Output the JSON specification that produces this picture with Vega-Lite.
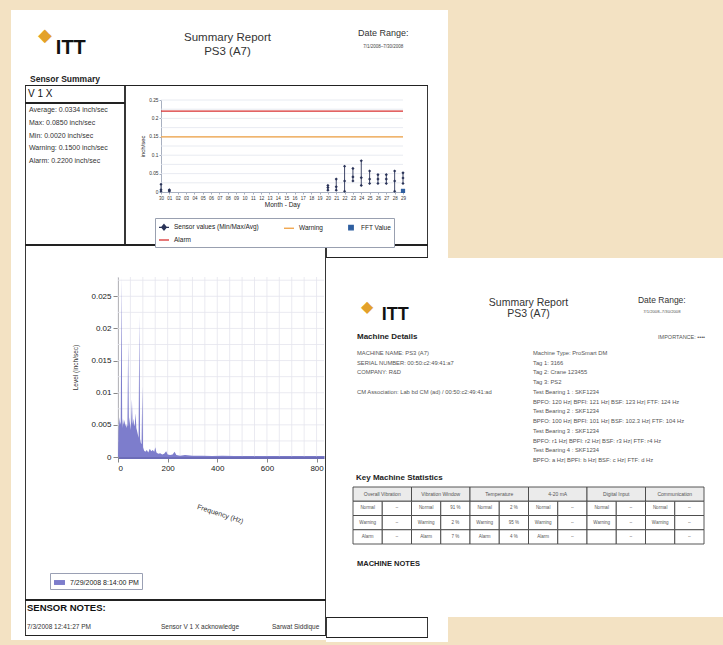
{
"$schema": "https://vega.github.io/schema/vega-lite/v6.json",
"background": "white",
"padding": 0,
"config": {"view": {"stroke": null}, "font": "Liberation Sans", "concat": {"spacing": 0}, "text": {"color": "#333"}},
"spacing": 0,
"vconcat": [
  {"width": 723, "height": 10, "data": {"values": []}, "mark": "point", "view": {"fill": "#f3e2c3"}},
  {"spacing": 0, "hconcat": [
    {"width": 11, "height": 235, "data": {"values": []}, "mark": "point", "view": {"fill": "#f3e2c3"}},
    {"spacing": 0, "vconcat": [
      {"width": 437, "height": 63,
       "encoding": {
         "x": {"field": "s", "type": "nominal", "scale": {"type": "point", "domain": ["logo", "title", "date"], "padding": 0.5}, "axis": null},
         "y": {"field": "l", "type": "nominal", "scale": {"type": "point", "domain": ["1", "2"], "range": [28, 42], "padding": 0}, "axis": null},
         "text": {"field": "t"}},
       "layer": [
         {"data": {"values": [{"s": "title", "l": "1", "t": "Summary Report"}, {"s": "title", "l": "2", "t": "PS3 (A7)"}]},
          "mark": {"type": "text", "fontSize": 11.5, "color": "#333", "dx": -2}},
         {"data": {"values": [{"s": "date", "l": "1", "t": "Date Range:"}]},
          "mark": {"type": "text", "fontSize": 9, "color": "#333", "dx": 8, "dy": -5}},
         {"data": {"values": [{"s": "date", "l": "2", "t": "7/1/2008–7/30/2008"}]},
          "mark": {"type": "text", "fontSize": 4.5, "color": "#444", "dx": 8, "dy": -5}},
         {"data": {"values": [{"s": "logo", "l": "2", "t": "ITT"}]},
          "mark": {"type": "text", "fontSize": 20, "fontWeight": "bold", "color": "#111", "dx": -13, "dy": -4}},
         {"data": {"values": [{"s": "logo", "l": "1", "t": "◆"}]},
          "mark": {"type": "text", "fontSize": 18, "color": "#e3a12a", "dx": -39, "dy": -2}}
       ]},
      {"width": 437, "height": 12,
       "data": {"values": [{"t": "Sensor Summary"}]},
       "mark": {"type": "text", "align": "left", "fontSize": 8.5, "fontWeight": "bold", "color": "#222"},
       "encoding": {"x": {"field": "t", "type": "nominal", "scale": {"type": "point", "range": [19, 19], "padding": 0}, "axis": null}, "text": {"field": "t"}}},
      {"spacing": 0, "hconcat": [
        {"width": 14, "height": 160, "data": {"values": []}, "mark": "point"},
        {"spacing": 0, "vconcat": [
          {"width": 100, "height": 18,
           "resolve": {"scale": {"x": "independent", "y": "independent"}},
           "layer": [
             {"data": {"values": [{"t": "V 1 X"}]},
              "mark": {"type": "text", "align": "left", "fontSize": 10, "color": "#111"},
              "encoding": {"x": {"field": "t", "type": "nominal", "scale": {"type": "point", "range": [3, 3], "padding": 0}, "axis": null}, "text": {"field": "t"}}},
             {"data": {"values": [{}]}, "mark": {"type": "rect", "fill": "transparent", "stroke": "#222", "strokeWidth": 1.8, "clip": true}}
           ]},
          {"width": 100, "height": 142,
           "resolve": {"scale": {"x": "independent", "y": "independent"}},
           "layer": [
             {"data": {"values": [{"t": "Average: 0.0334 inch/sec"}, {"t": "Max: 0.0850 inch/sec"}, {"t": "Min: 0.0020 inch/sec"}, {"t": "Warning: 0.1500 inch/sec"}, {"t": "Alarm: 0.2200 inch/sec"}]},
              "mark": {"type": "text", "align": "left", "fontSize": 7, "color": "#333"},
              "encoding": {
                "x": {"field": "t", "type": "nominal", "scale": {"type": "point", "range": [4, 4], "padding": 0}, "axis": null},
                "y": {"field": "t", "type": "nominal", "sort": null, "scale": {"type": "point", "range": [7, 58], "padding": 0}, "axis": null},
                "text": {"field": "t"}}},
             {"data": {"values": [{}]}, "mark": {"type": "rect", "fill": "transparent", "stroke": "#222", "strokeWidth": 1.8, "clip": true}}
           ]}
        ]},
        {"width": 303, "height": 160,
         "resolve": {"scale": {"x": "independent", "y": "independent"}},
         "layer": [
           {"encoding": {
              "x": {"field": "day", "type": "ordinal",
                    "scale": {"type": "point", "domain": ["30","01","02","03","04","05","06","07","08","09","10","11","12","13","14","15","16","17","18","19","20","21","22","23","24","25","26","27","28","29"], "range": [36, 278], "padding": 0},
                    "axis": {"orient": "bottom", "offset": -53, "grid": false, "labelFontSize": 4.5, "labelAngle": 0, "labelOverlap": false, "title": "Month - Day", "titleFontSize": 6.5, "titleFontWeight": "normal", "titlePadding": 2, "tickSize": 2, "labelPadding": 1, "domainColor": "#a8b0c0", "tickColor": "#a8b0c0", "labelColor": "#333", "titleColor": "#222"}},
              "y": {"field": "v", "type": "quantitative", "title": "inch/sec",
                    "scale": {"domain": [0, 0.25], "range": [107, 15], "nice": false, "zero": false},
                    "axis": {"orient": "left", "offset": -36, "grid": false, "tickCount": 5, "format": "~g", "labelOverlap": false, "labelSeparation": 0, "labelFontSize": 4.8, "titleFontSize": 6, "titleFontWeight": "normal", "titlePadding": 3, "tickSize": 2, "labelPadding": 1, "domainColor": "#a8b0c0", "tickColor": "#a8b0c0", "labelColor": "#333", "titleColor": "#222"}}},
            "layer": [
              {"data": {"values": [{"day":"30"},{"day":"01"},{"day":"02"},{"day":"03"},{"day":"04"},{"day":"05"},{"day":"06"},{"day":"07"},{"day":"08"},{"day":"09"},{"day":"10"},{"day":"11"},{"day":"12"},{"day":"13"},{"day":"14"},{"day":"15"},{"day":"16"},{"day":"17"},{"day":"18"},{"day":"19"},{"day":"20"},{"day":"21"},{"day":"22"},{"day":"23"},{"day":"24"},{"day":"25"},{"day":"26"},{"day":"27"},{"day":"28"},{"day":"29"}]},
               "mark": {"type": "rule", "color": "#e2e6ee", "strokeWidth": 0.8, "clip": true},
               "encoding": {"y": {"datum": 0, "type": "quantitative"}, "y2": {"datum": 0.25}}},
              {"data": {"values": [{"v": 0.025}, {"v": 0.05}, {"v": 0.075}, {"v": 0.1}, {"v": 0.125}, {"v": 0.15}, {"v": 0.175}, {"v": 0.2}, {"v": 0.225}, {"v": 0.25}]},
               "mark": {"type": "rule", "color": "#e2e6ee", "strokeWidth": 0.8, "clip": true},
               "encoding": {"x": {"datum": "30", "type": "ordinal"}, "x2": {"datum": "29"}}},
              {"data": {"values": [
                 {"series": "Alarm", "day": "30", "v": 0.22}, {"series": "Alarm", "day": "29", "v": 0.22},
                 {"series": "Warning", "day": "30", "v": 0.15}, {"series": "Warning", "day": "29", "v": 0.15}]},
               "mark": {"type": "line", "strokeWidth": 1.3},
               "encoding": {
                 "color": {"field": "series", "type": "nominal",
                           "scale": {"domain": ["Sensor values (Min/Max/Avg)", "Warning", "FFT Value", "Alarm"], "range": ["#2a3358", "#f0a040", "#2f5fa0", "#d83030"]},
                           "legend": {"orient": "none", "legendX": 155, "legendY": 218, "direction": "horizontal", "columns": 3, "columnPadding": 22, "rowPadding": 1, "padding": 3, "strokeColor": "#99a0b0", "fillColor": "white", "labelFontSize": 6.5, "labelColor": "#222", "title": null, "symbolSize": 100,
                                      "encode": {"symbols": {"update": {
                                        "shape": {"signal": "datum.value === 'FFT Value' ? 'square' : datum.value === 'Sensor values (Min/Max/Avg)' ? 'M-1,0H1M0,-0.55L0.45,0L0,0.55L-0.45,0Z' : 'stroke'"},
                                        "fill": {"signal": "datum.value === 'Warning' || datum.value === 'Alarm' ? 'transparent' : scale('color', datum.value)"},
                                        "stroke": {"signal": "scale('color', datum.value)"},
                                        "strokeWidth": {"value": 1.3},
                                        "size": {"signal": "datum.value === 'FFT Value' ? 20 : 100"}}}}}}}},
              {"data": {"values": [
                 {"day": "30", "min": 0.002, "avg": 0.006, "max": 0.021},
                 {"day": "01", "min": 0.002, "avg": 0.004, "max": 0.006},
                 {"day": "20", "min": 0.005, "avg": 0.012, "max": 0.018},
                 {"day": "21", "min": 0.005, "avg": 0.014, "max": 0.035},
                 {"day": "22", "min": 0.002, "avg": 0.030, "max": 0.070},
                 {"day": "23", "min": 0.030, "avg": 0.041, "max": 0.064},
                 {"day": "24", "min": 0.018, "avg": 0.039, "max": 0.085},
                 {"day": "25", "min": 0.023, "avg": 0.035, "max": 0.057},
                 {"day": "26", "min": 0.023, "avg": 0.035, "max": 0.047},
                 {"day": "27", "min": 0.023, "avg": 0.035, "max": 0.047},
                 {"day": "28", "min": 0.002, "avg": 0.030, "max": 0.057},
                 {"day": "29", "min": 0.023, "avg": 0.038, "max": 0.052}]},
               "layer": [
                 {"mark": {"type": "rule", "strokeWidth": 0.9},
                  "encoding": {"y": {"field": "min", "type": "quantitative", "title": "inch/sec"}, "y2": {"field": "max"}, "color": {"datum": "Sensor values (Min/Max/Avg)", "type": "nominal"}}},
                 {"transform": [{"fold": ["min", "avg", "max"], "as": ["stat", "value"]}],
                  "mark": {"type": "point", "shape": "diamond", "filled": true, "size": 10, "opacity": 1},
                  "encoding": {"y": {"field": "value", "type": "quantitative", "title": "inch/sec"}, "color": {"datum": "Sensor values (Min/Max/Avg)", "type": "nominal"}}}
               ]},
              {"data": {"values": [{"day": "29", "v": 0.003}]},
               "mark": {"type": "square", "size": 18, "filled": true, "opacity": 1},
               "encoding": {"color": {"datum": "FFT Value", "type": "nominal"}}}
            ]},
           {"data": {"values": [{}]}, "mark": {"type": "rect", "fill": "transparent", "stroke": "#222", "strokeWidth": 1.8, "clip": true}}
         ]},
        {"width": 20, "height": 160, "data": {"values": []}, "mark": "point"}
      ]}
    ]},
    {"width": 275, "height": 235, "data": {"values": []}, "mark": "point", "view": {"fill": "#f3e2c3"}}
  ]},
  {"spacing": 0, "hconcat": [
    {"width": 11, "height": 400, "data": {"values": []}, "mark": "point", "view": {"fill": "#f3e2c3"}},
    {"spacing": 0, "vconcat": [
      {"spacing": 0, "hconcat": [
        {"width": 14, "height": 355, "data": {"values": []}, "mark": "point"},
        {"width": 301, "height": 355,
         "resolve": {"scale": {"x": "independent", "y": "independent"}},
         "layer": [
           {"layer": [
             {"data": {"values": [{"hz": 0}, {"hz": 50}, {"hz": 100}, {"hz": 150}, {"hz": 200}, {"hz": 250}, {"hz": 300}, {"hz": 350}, {"hz": 400}, {"hz": 450}, {"hz": 500}, {"hz": 550}, {"hz": 600}, {"hz": 650}, {"hz": 700}, {"hz": 750}, {"hz": 800}]},
              "mark": {"type": "rule", "color": "#e4e4ee", "strokeWidth": 0.8, "clip": true},
              "encoding": {"x": {"field": "hz", "type": "quantitative"}, "y": {"datum": 0, "type": "quantitative"}, "y2": {"datum": 0.028}}},
             {"data": {"values": [{"level": 0.0025}, {"level": 0.005}, {"level": 0.0075}, {"level": 0.01}, {"level": 0.0125}, {"level": 0.015}, {"level": 0.0175}, {"level": 0.02}, {"level": 0.0225}, {"level": 0.025}, {"level": 0.0275}]},
              "mark": {"type": "rule", "color": "#e4e4ee", "strokeWidth": 0.8, "clip": true},
              "encoding": {"y": {"field": "level", "type": "quantitative"}, "x": {"datum": 0, "type": "quantitative"}, "x2": {"datum": 830}}},
             {"data": {"values": [
               {"hz": 0, "level": 0}, {"hz": 2, "level": 0.004}, {"hz": 5, "level": 0.0062}, {"hz": 8, "level": 0.005}, {"hz": 11, "level": 0.0055},
               {"hz": 14, "level": 0.028}, {"hz": 17, "level": 0.0045}, {"hz": 20, "level": 0.006}, {"hz": 23, "level": 0.005}, {"hz": 26, "level": 0.0058},
               {"hz": 29, "level": 0.0048}, {"hz": 32, "level": 0.0052}, {"hz": 35, "level": 0.0045}, {"hz": 38, "level": 0.005}, {"hz": 41, "level": 0.018},
               {"hz": 44, "level": 0.0048}, {"hz": 47, "level": 0.0062}, {"hz": 50, "level": 0.0042}, {"hz": 53, "level": 0.0055}, {"hz": 56, "level": 0.009},
               {"hz": 59, "level": 0.005}, {"hz": 62, "level": 0.006}, {"hz": 65, "level": 0.0048}, {"hz": 68, "level": 0.0052}, {"hz": 71, "level": 0.0068},
               {"hz": 74, "level": 0.0045}, {"hz": 77, "level": 0.004}, {"hz": 80, "level": 0.0035}, {"hz": 83, "level": 0.003}, {"hz": 86, "level": 0.022},
               {"hz": 89, "level": 0.0028}, {"hz": 92, "level": 0.0022}, {"hz": 95, "level": 0.002}, {"hz": 98, "level": 0.011}, {"hz": 101, "level": 0.0015},
               {"hz": 105, "level": 0.001}, {"hz": 110, "level": 0.0008}, {"hz": 116, "level": 0.0011}, {"hz": 122, "level": 0.0007}, {"hz": 128, "level": 0.0013},
               {"hz": 134, "level": 0.0009}, {"hz": 140, "level": 0.0011}, {"hz": 146, "level": 0.0008}, {"hz": 150, "level": 0.0015}, {"hz": 155, "level": 0.0007},
               {"hz": 162, "level": 0.0005}, {"hz": 170, "level": 0.0006}, {"hz": 178, "level": 0.0004}, {"hz": 186, "level": 0.0005}, {"hz": 194, "level": 0.0009},
               {"hz": 200, "level": 0.0004}, {"hz": 210, "level": 0.0003}, {"hz": 220, "level": 0.0004}, {"hz": 228, "level": 0.0008}, {"hz": 235, "level": 0.0003},
               {"hz": 250, "level": 0.0002}, {"hz": 270, "level": 0.0003}, {"hz": 300, "level": 0.0002}, {"hz": 340, "level": 0.0002}, {"hz": 380, "level": 0.00015},
               {"hz": 420, "level": 0.0002}, {"hz": 470, "level": 0.00015}, {"hz": 520, "level": 0.0001}, {"hz": 580, "level": 0.00015}, {"hz": 640, "level": 0.0001},
               {"hz": 700, "level": 0.0001}, {"hz": 760, "level": 0.0001}, {"hz": 830, "level": 0.0001}]},
              "mark": {"type": "area", "opacity": 1, "clip": true},
              "encoding": {
                "x": {"field": "hz", "type": "quantitative", "scale": {"domain": [0, 830], "range": [93, 299], "nice": false},
                      "axis": {"orient": "bottom", "offset": -143, "grid": false, "values": [0, 200, 400, 600, 800], "labelFontSize": 8, "labelColor": "#222", "title": "Frequency (Hz)", "titleFontSize": 7, "titleFontWeight": "normal", "titleAngle": 18, "titlePadding": 38, "titleColor": "#333", "domainColor": "#6c6cb8", "domainWidth": 3, "tickColor": "#888"}},
                "y": {"field": "level", "type": "quantitative", "scale": {"domain": [0, 0.028], "range": [212, 32], "nice": false},
                      "axis": {"orient": "left", "offset": -93, "grid": false, "values": [0, 0.005, 0.01, 0.015, 0.02, 0.025], "format": "~g", "labelOverlap": false, "labelFontSize": 8, "labelColor": "#222", "title": "Level (inch/sec)", "titleFontSize": 6.5, "titleFontWeight": "normal", "titlePadding": 12, "titleColor": "#333", "domainColor": "#999", "tickColor": "#888"}},
                "fill": {"datum": "7/29/2008 8:14:00 PM", "type": "nominal", "scale": {"range": ["#7d7dcc"]},
                         "legend": {"orient": "none", "legendX": 50, "legendY": 573, "title": null, "labelFontSize": 7, "labelColor": "#222", "padding": 3, "strokeColor": "#9aa0b4", "fillColor": "white", "symbolType": "M-1,-0.45H1V0.45H-1Z", "symbolSize": 120, "labelLimit": 200}}}}
           ]},
           {"data": {"values": [{}]}, "mark": {"type": "rect", "fill": "transparent", "stroke": "#222", "strokeWidth": 1.8, "clip": true}}
         ]}
      ]},
      {"spacing": 0, "hconcat": [
        {"width": 14, "height": 36, "data": {"values": []}, "mark": "point"},
        {"width": 301, "height": 36,
         "resolve": {"scale": {"x": "independent", "y": "independent"}},
         "layer": [
           {"encoding": {
              "x": {"field": "col", "type": "nominal", "scale": {"type": "point", "domain": ["date", "msg", "user"], "range": [2, 270], "padding": 0}, "axis": null},
              "y": {"field": "line", "type": "nominal", "scale": {"type": "point", "domain": ["h", "n"], "range": [8, 27], "padding": 0}, "axis": null},
              "text": {"field": "t"}},
            "layer": [
              {"data": {"values": [{"col": "date", "line": "h", "t": "SENSOR NOTES:"}]},
               "mark": {"type": "text", "align": "left", "fontSize": 9.5, "fontWeight": "bold", "color": "#111"}},
              {"data": {"values": [{"col": "date", "line": "n", "t": "7/3/2008 12:41:27 PM"}, {"col": "msg", "line": "n", "t": "Sensor V 1 X acknowledge"}]},
               "mark": {"type": "text", "align": "left", "fontSize": 6.5, "color": "#333"}},
              {"data": {"values": [{"col": "user", "line": "n", "t": "Sarwat Siddique"}]},
               "mark": {"type": "text", "align": "left", "fontSize": 6.5, "color": "#333", "dx": -23, "clip": true}}
            ]},
           {"data": {"values": [{}]}, "mark": {"type": "rect", "fill": "transparent", "stroke": "#222", "strokeWidth": 1.8, "clip": true}}
         ]}
      ]},
      {"width": 315, "height": 4, "data": {"values": []}, "mark": "point"},
      {"width": 315, "height": 5, "data": {"values": []}, "mark": "point", "view": {"fill": "#f3e2c3"}}
    ]},
    {"spacing": 0, "vconcat": [
      {"spacing": 0, "hconcat": [
        {"width": 102, "height": 13, "data": {"values": [{}]}, "mark": {"type": "rect", "fill": "transparent", "stroke": "#222", "strokeWidth": 1.8, "clip": true}},
        {"width": 20, "height": 13, "data": {"values": []}, "mark": "point"},
        {"width": 275, "height": 13, "data": {"values": []}, "mark": "point", "view": {"fill": "#f3e2c3"}}
      ]},
      {"spacing": 0, "vconcat": [
        {"width": 397, "height": 72,
         "encoding": {
           "x": {"field": "s", "type": "nominal", "scale": {"type": "point", "domain": ["logo", "title", "date"], "padding": 0.5}, "axis": null},
           "y": {"field": "l", "type": "nominal", "scale": {"type": "point", "domain": ["1", "2"], "range": [45, 56], "padding": 0}, "axis": null},
           "text": {"field": "t"}},
         "layer": [
           {"data": {"values": [{"s": "title", "l": "1", "t": "Summary Report"}, {"s": "title", "l": "2", "t": "PS3 (A7)"}]},
            "mark": {"type": "text", "fontSize": 10.5, "color": "#333", "dx": 4}},
           {"data": {"values": [{"s": "date", "l": "1", "t": "Date Range:"}]},
            "mark": {"type": "text", "fontSize": 8.5, "color": "#333", "dx": 5, "dy": -3}},
           {"data": {"values": [{"s": "date", "l": "2", "t": "7/1/2008–7/30/2008"}]},
            "mark": {"type": "text", "fontSize": 4.2, "color": "#555", "dx": 5, "dy": -2}},
           {"data": {"values": [{"s": "logo", "l": "2", "t": "ITT"}]},
            "mark": {"type": "text", "fontSize": 18, "fontWeight": "bold", "color": "#111", "dx": 3, "dy": 1}},
           {"data": {"values": [{"s": "logo", "l": "1", "t": "◆"}]},
            "mark": {"type": "text", "fontSize": 16, "color": "#e3a12a", "dx": -25, "dy": 4}}
         ]},
        {"width": 397, "height": 14,
         "encoding": {
           "x": {"field": "side", "type": "nominal", "scale": {"type": "point", "domain": ["L", "R"], "range": [31, 379], "padding": 0}, "axis": null},
           "text": {"field": "t"}},
         "layer": [
           {"data": {"values": [{"side": "L", "t": "Machine Details"}]},
            "mark": {"type": "text", "align": "left", "fontSize": 8, "fontWeight": "bold", "color": "#222"}},
           {"data": {"values": [{"side": "R", "t": "IMPORTANCE: ••••"}]},
            "mark": {"type": "text", "align": "right", "fontSize": 5.5, "color": "#555"}}
         ]},
        {"width": 397, "height": 126,
         "data": {"values": [
           {"col": "L", "line": 1, "t": "MACHINE NAME: PS3 (A7)"},
           {"col": "L", "line": 2, "t": "SERIAL NUMBER: 00:50:c2:49:41:a7"},
           {"col": "L", "line": 3, "t": "COMPANY: R&D"},
           {"col": "L", "line": 5, "t": "CM Association: Lab bd CM (ad) / 00:50:c2:49:41:ad"},
           {"col": "R", "line": 1, "t": "Machine Type: ProSmart DM"},
           {"col": "R", "line": 2, "t": "Tag 1: 3166"},
           {"col": "R", "line": 3, "t": "Tag 2: Crane 123455"},
           {"col": "R", "line": 4, "t": "Tag 3: PS2"},
           {"col": "R", "line": 5, "t": "Test Bearing 1 : SKF1234"},
           {"col": "R", "line": 6, "t": " BPFO: 120 Hz| BPFI: 121 Hz| BSF: 123 Hz| FTF: 124 Hz"},
           {"col": "R", "line": 7, "t": "Test Bearing 2 : SKF1234"},
           {"col": "R", "line": 8, "t": " BPFO: 100 Hz| BPFI: 101 Hz| BSF: 102.3 Hz| FTF: 104 Hz"},
           {"col": "R", "line": 9, "t": "Test Bearing 3 : SKF1234"},
           {"col": "R", "line": 10, "t": " BPFO: r1 Hz| BPFI: r2 Hz| BSF: r3 Hz| FTF: r4 Hz"},
           {"col": "R", "line": 11, "t": "Test Bearing 4 : SKF1234"},
           {"col": "R", "line": 12, "t": " BPFO: a Hz| BPFI: b Hz| BSF: c Hz| FTF: d Hz"}]},
         "mark": {"type": "text", "align": "left", "fontSize": 5.8, "color": "#555"},
         "encoding": {
           "x": {"field": "col", "type": "nominal", "scale": {"type": "point", "domain": ["L", "R"], "range": [31, 207], "padding": 0}, "axis": null},
           "y": {"field": "line", "type": "ordinal", "scale": {"type": "point", "domain": [1,2,3,4,5,6,7,8,9,10,11,12], "range": [9, 116], "padding": 0}, "axis": null},
           "text": {"field": "t"}}},
        {"width": 397, "height": 16,
         "data": {"values": [{"t": "Key Machine Statistics"}]},
         "mark": {"type": "text", "align": "left", "fontSize": 8, "fontWeight": "bold", "color": "#222"},
         "encoding": {"x": {"field": "t", "type": "nominal", "scale": {"type": "point", "range": [30, 30], "padding": 0}, "axis": null}, "text": {"field": "t"}}},
        {"width": 397, "height": 57,
         "encoding": {
           "x": {"field": "g", "type": "nominal", "scale": {"type": "band", "domain": ["Overall Vibration", "Vibration Window", "Temperature", "4-20 mA", "Digital Input", "Communication"], "range": [27, 378], "paddingInner": 0, "paddingOuter": 0}, "axis": null},
           "y": {"field": "r", "type": "nominal", "scale": {"type": "band", "domain": ["head", "Normal", "Warning", "Alarm"], "paddingInner": 0, "paddingOuter": 0}, "axis": null}},
         "layer": [
           {"data": {"values": [{"g": "Overall Vibration", "r": "head"}, {"g": "Vibration Window", "r": "head"}, {"g": "Temperature", "r": "head"}, {"g": "4-20 mA", "r": "head"}, {"g": "Digital Input", "r": "head"}, {"g": "Communication", "r": "head"}]},
            "layer": [
              {"mark": {"type": "rect", "fill": "#ebebeb", "stroke": "#444", "strokeWidth": 0.9}},
              {"mark": {"type": "text", "fontSize": 5, "color": "#555"}, "encoding": {"text": {"field": "g"}}}
            ]},
           {"data": {"values": [
              {"g": "Overall Vibration", "r": "Normal", "lab": "Normal", "val": "--"},
              {"g": "Overall Vibration", "r": "Warning", "lab": "Warning", "val": "--"},
              {"g": "Overall Vibration", "r": "Alarm", "lab": "Alarm", "val": "--"},
              {"g": "Vibration Window", "r": "Normal", "lab": "Normal", "val": "91 %"},
              {"g": "Vibration Window", "r": "Warning", "lab": "Warning", "val": "2 %"},
              {"g": "Vibration Window", "r": "Alarm", "lab": "Alarm", "val": "7 %"},
              {"g": "Temperature", "r": "Normal", "lab": "Normal", "val": "2 %"},
              {"g": "Temperature", "r": "Warning", "lab": "Warning", "val": "95 %"},
              {"g": "Temperature", "r": "Alarm", "lab": "Alarm", "val": "4 %"},
              {"g": "4-20 mA", "r": "Normal", "lab": "Normal", "val": "--"},
              {"g": "4-20 mA", "r": "Warning", "lab": "Warning", "val": "--"},
              {"g": "4-20 mA", "r": "Alarm", "lab": "Alarm", "val": "--"},
              {"g": "Digital Input", "r": "Normal", "lab": "Normal", "val": "--"},
              {"g": "Digital Input", "r": "Warning", "lab": "Warning", "val": "--"},
              {"g": "Digital Input", "r": "Alarm", "lab": "", "val": "--"},
              {"g": "Communication", "r": "Normal", "lab": "Normal", "val": "--"},
              {"g": "Communication", "r": "Warning", "lab": "Warning", "val": "--"},
              {"g": "Communication", "r": "Alarm", "lab": "", "val": "--"}]},
            "transform": [{"fold": ["lab", "val"], "as": ["part", "txt"]}],
            "encoding": {"xOffset": {"field": "part", "type": "nominal", "scale": {"domain": ["lab", "val"], "paddingInner": 0, "paddingOuter": 0}}},
            "layer": [
              {"mark": {"type": "rect", "fill": "white", "stroke": "#444", "strokeWidth": 0.9}},
              {"mark": {"type": "text", "fontSize": 4.5, "color": "#555"}, "encoding": {"text": {"field": "txt"}}}
            ]}
         ]},
        {"width": 397, "height": 72,
         "data": {"values": [{"t": "MACHINE NOTES"}]},
         "mark": {"type": "text", "align": "left", "fontSize": 7.5, "fontWeight": "bold", "color": "#222"},
         "encoding": {
           "x": {"field": "t", "type": "nominal", "scale": {"type": "point", "range": [31, 31], "padding": 0}, "axis": null},
           "y": {"field": "t", "type": "nominal", "scale": {"type": "point", "range": [19, 19], "padding": 0}, "axis": null},
           "text": {"field": "t"}}}
      ]},
      {"spacing": 0, "hconcat": [
        {"spacing": 0, "vconcat": [
          {"spacing": 0, "hconcat": [
            {"width": 102, "height": 21, "data": {"values": [{}]}, "mark": {"type": "rect", "fill": "transparent", "stroke": "#222", "strokeWidth": 1.8, "clip": true}},
            {"width": 20, "height": 21, "data": {"values": []}, "mark": "point"}
          ]},
          {"width": 122, "height": 4, "data": {"values": []}, "mark": "point"}
        ]},
        {"width": 275, "height": 25, "data": {"values": []}, "mark": "point", "view": {"fill": "#f3e2c3"}}
      ]},
      {"width": 397, "height": 5, "data": {"values": []}, "mark": "point", "view": {"fill": "#f3e2c3"}}
    ]}
  ]}
]
}
